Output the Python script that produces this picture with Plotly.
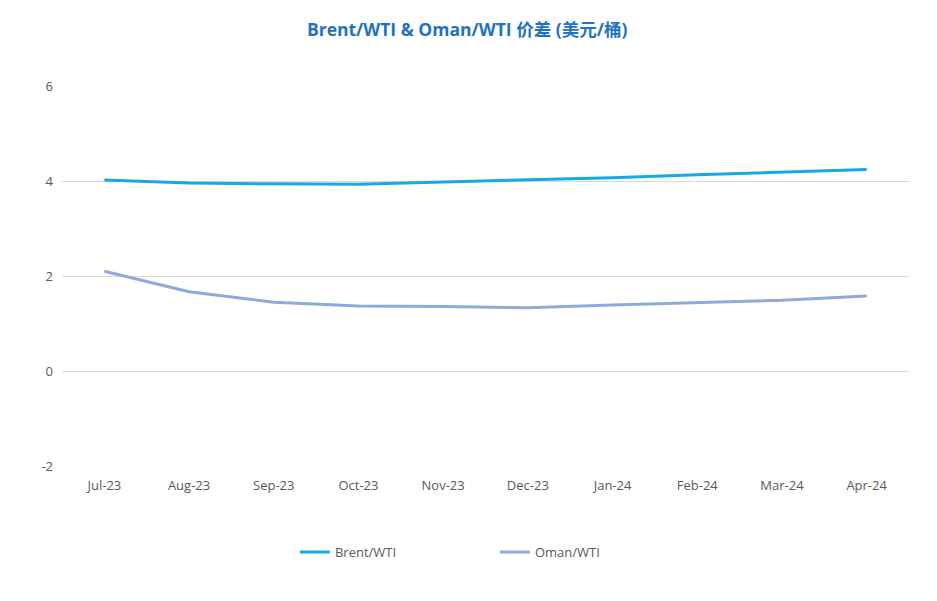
import plotly.graph_objects as go

months = ["Jul-23", "Aug-23", "Sep-23", "Oct-23", "Nov-23", "Dec-23", "Jan-24", "Feb-24", "Mar-24", "Apr-24"]
brent_wti = [4.02, 3.96, 3.94, 3.93, 3.98, 4.02, 4.07, 4.13, 4.19, 4.24]
oman_wti = [2.10, 1.67, 1.45, 1.37, 1.36, 1.33, 1.39, 1.44, 1.49, 1.58]
y_ticks = [-2, 0, 2, 4, 6]
y_tick_labels = ["-2", "0", "2", "4", "6"]

fig = go.Figure()
fig.add_trace(go.Scatter(x=months, y=brent_wti, name="Brent/WTI", mode="lines",
                         line=dict(color="#14AAE6", width=3)))
fig.add_trace(go.Scatter(x=months, y=oman_wti, name="Oman/WTI", mode="lines",
                         line=dict(color="#8EA9DB", width=3)))

fig.update_layout(
    width=937, height=601,
    paper_bgcolor="white", plot_bgcolor="white",
    margin=dict(l=54, r=36, t=78, b=143),
    font=dict(family="Open Sans, Noto Sans CJK SC, sans-serif", color="#595959", size=13),
    title=dict(text="<b>Brent/WTI & Oman/WTI 价差 (美元/桶)</b>", x=0.49, xanchor="center",
               y=0.963, yanchor="middle",
               font=dict(size=17.5, color="#1F72C0", family="Open Sans, Noto Sans CJK SC, sans-serif")),
    xaxis=dict(type="category", range=[-0.5, 9.5], showgrid=False, showline=False, zeroline=False,
               ticks="", tickfont=dict(size=13, color="#595959"), ticklabelstandoff=10),
    yaxis=dict(range=[-2, 6], tickvals=y_ticks, ticktext=y_tick_labels, showgrid=True,
               gridcolor="#D9D9D9", gridwidth=1, zeroline=False, showline=False, ticks="",
               tickfont=dict(size=13, color="#595959"), ticklabelstandoff=8),
    legend=dict(orientation="h", x=0.275, xanchor="left", y=-0.187, yanchor="top",
                font=dict(size=13, color="#595959"), itemwidth=30,
                entrywidth=155),
    showlegend=True,
)

fig.write_html("out.html")
